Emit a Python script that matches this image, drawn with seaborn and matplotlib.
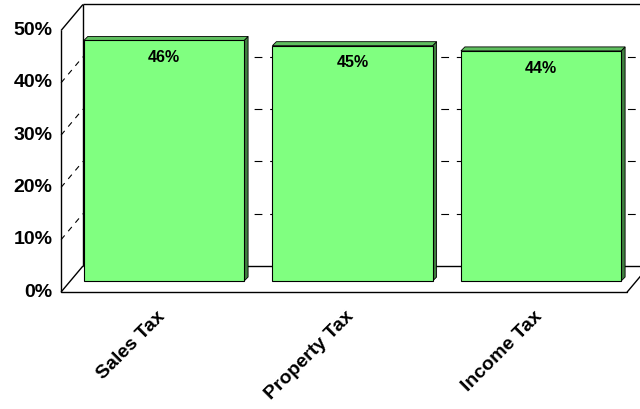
import numpy as np
import matplotlib
matplotlib.use('Agg')
import matplotlib.pyplot as plt
import seaborn as sns
from matplotlib.patches import Polygon

categories = ['Sales Tax', 'Property Tax', 'Income Tax']
values = [46, 45, 44]
ticks = [0, 10, 20, 30, 40, 50]

sns.set_style('white')
plt.rcParams['font.family'] = ['Liberation Sans', 'DejaVu Sans']
plt.rcParams['font.weight'] = 'bold'
plt.rcParams['text.color'] = 'black'

fig = plt.figure(figsize=(6.4, 4.09), dpi=100)
ax = fig.add_axes([0, 0, 1, 1])

# pseudo 3d geometry (data units): front / back planes relative to bar plane
fdx, fdy = -0.049, -2.10
bdx, bdy = 0.067, 2.87
wall_l, wall_r = -0.497, 2.506
side_dx, side_dy = 0.021, 0.76

# back wall dashed grid
for v in ticks[1:-1]:
    ax.plot([wall_l + bdx, wall_r + bdx], [v + bdy, v + bdy], color='black',
            lw=0.8, ls=(0, (7, 7)), zorder=1)
    ax.plot([wall_l + fdx, wall_l + bdx], [v + fdy, v + bdy], color='black',
            lw=0.8, ls=(0, (5, 5)), zorder=1)

kw = dict(color='black', lw=1.0, zorder=1, solid_capstyle='butt')
top, bot = ticks[-1], ticks[0]
# left wall
ax.plot([wall_l + fdx, wall_l + fdx], [bot + fdy, top + fdy], **kw)
ax.plot([wall_l + bdx, wall_l + bdx], [bot + bdy, top + bdy], **kw)
ax.plot([wall_l + fdx, wall_l + bdx], [top + fdy, top + bdy], **kw)
ax.plot([wall_l + fdx, wall_l + bdx], [bot + fdy, bot + bdy], **kw)
# back wall top and floor
ax.plot([wall_l + bdx, wall_r + bdx], [top + bdy, top + bdy], **kw)
ax.plot([wall_l + bdx, wall_r + bdx], [bot + bdy, bot + bdy], **kw)
ax.plot([wall_l + fdx, wall_r + fdx], [bot + fdy, bot + fdy], color='black', lw=1.0, zorder=5)
ax.plot([wall_r + fdx, wall_r + bdx], [bot + fdy, bot + bdy], color='black', lw=1.0, zorder=5)

sns.barplot(x=categories, y=values, color='#80FF80', saturation=1, width=0.85,
            edgecolor='black', linewidth=0.8, ax=ax, zorder=3)

# 3d sides / tops of the bars
for p in ax.patches:
    x0, w, h = p.get_x(), p.get_width(), p.get_height()
    side = Polygon([[x0 + w, 0], [x0 + w + side_dx, side_dy],
                    [x0 + w + side_dx, h + side_dy], [x0 + w, h]],
                   facecolor='#3f7f3f', edgecolor='black', lw=0.6, zorder=2.9)
    cap = Polygon([[x0, h], [x0 + side_dx, h + side_dy],
                   [x0 + w + side_dx, h + side_dy], [x0 + w, h]],
                  facecolor='#5fbf5f', edgecolor='black', lw=0.6, zorder=2.9)
    ax.add_patch(side)
    ax.add_patch(cap)

for i, v in enumerate(values):
    ax.annotate(f'{v}%', (i, v), xytext=(0, -7), textcoords='offset points',
                ha='center', va='top', fontsize=11.5, fontweight='bold',
                color='black', zorder=6)
    ax.text(i - 0.04, -5.2, categories[i], rotation=45, rotation_mode='anchor',
            ha='right', va='top', fontsize=14, fontweight='bold', color='black')

for v in ticks:
    ax.text(wall_l + fdx - 0.045, v + fdy, f'{v}%', ha='right', va='center',
            fontsize=14, fontweight='bold', color='black')

ax.set_xlim(-0.870, 2.525)
ax.set_ylim(-24.47, 53.73)
ax.axis('off')

plt.savefig('out.png', dpi=100)
